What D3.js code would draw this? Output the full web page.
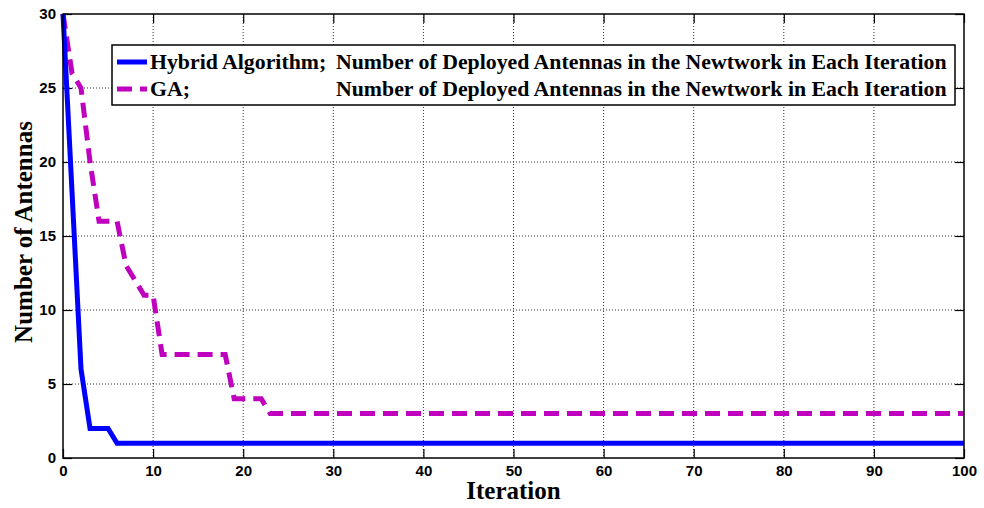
<!DOCTYPE html>
<html>
<head>
<meta charset="utf-8">
<script src="https://cdn.jsdelivr.net/npm/d3@7"></script>
<style>
  html, body { margin: 0; padding: 0; background: #fff; }
  svg { display: block; }
</style>
</head>
<body>
<svg id="chart" width="984" height="508"></svg>
<script>
// Iteration counts and number of deployed antennas per iteration
const iterations = d3.range(0, 101);
const hybridHead = [30, 18, 6, 2, 2, 2, 1];
const gaHead = [30, 26, 25, 20, 16, 16, 16, 13, 12, 11, 11,
                7, 7, 7, 7, 7, 7, 7, 7, 4, 4, 4, 4, 3];
const hybridTail = 1;
const gaTail = 3;
const hybridValues = iterations.map(i => i < hybridHead.length ? hybridHead[i] : hybridTail);
const gaValues = iterations.map(i => i < gaHead.length ? gaHead[i] : gaTail);

const xTicks = [0, 10, 20, 30, 40, 50, 60, 70, 80, 90, 100];
const yTicks = [0, 5, 10, 15, 20, 25, 30];
const seriesNames = ["Hybrid Algorithm;", "GA;"];
const seriesDesc = "Number of Deployed Antennas in the Newtwork in Each Iteration";

const svg = d3.select("#chart");
const plotLeft = 63, plotRight = 964, plotTop = 14, plotBottom = 458;

const x = d3.scaleLinear().domain([0, 100]).range([plotLeft, plotRight]);
const y = d3.scaleLinear().domain([0, 30]).range([plotBottom, plotTop]);

// Dotted grid
const grid = svg.append("g");
grid.selectAll("line.gx").data(xTicks.slice(1, -1)).join("line")
  .attr("x1", d => x(d)).attr("x2", d => x(d))
  .attr("y1", plotTop).attr("y2", plotBottom)
  .attr("stroke", "#333").attr("stroke-width", 1).attr("stroke-dasharray", "1,2");
grid.selectAll("line.gy").data(yTicks.slice(1, -1)).join("line")
  .attr("x1", plotLeft).attr("x2", plotRight)
  .attr("y1", d => y(d)).attr("y2", d => y(d))
  .attr("stroke", "#333").attr("stroke-width", 1).attr("stroke-dasharray", "1,2");

// Axes with inward ticks on all four sides
const tickLen = 9;
const fontTick = "bold 15px 'Liberation Sans', Arial, sans-serif";
const axB = svg.append("g").attr("transform", `translate(0,${plotBottom})`)
  .call(d3.axisBottom(x).tickValues(xTicks).tickSizeInner(-tickLen).tickSizeOuter(0).tickPadding(7));
const axT = svg.append("g").attr("transform", `translate(0,${plotTop})`)
  .call(d3.axisTop(x).tickValues(xTicks).tickSizeInner(-tickLen).tickSizeOuter(0).tickFormat(""));
const axL = svg.append("g").attr("transform", `translate(${plotLeft},0)`)
  .call(d3.axisLeft(y).tickValues(yTicks).tickSizeInner(-tickLen).tickSizeOuter(0).tickPadding(7));
const axR = svg.append("g").attr("transform", `translate(${plotRight},0)`)
  .call(d3.axisRight(y).tickValues(yTicks).tickSizeInner(-tickLen).tickSizeOuter(0).tickFormat(""));
[axB, axT, axL, axR].forEach(a => {
  a.select(".domain").remove();
  a.selectAll(".tick line").attr("stroke", "#000").attr("stroke-width", 1.2);
  a.selectAll(".tick text").attr("fill", "#000").style("font", fontTick);
});

// Series lines
const line = d3.line().x((d, i) => x(iterations[i])).y(d => y(d));
svg.append("path").datum(gaValues)
  .attr("d", line).attr("fill", "none")
  .attr("stroke", "#BF00BF").attr("stroke-width", 5)
  .attr("stroke-dasharray", "15,8").attr("stroke-linejoin", "miter");
svg.append("path").datum(hybridValues)
  .attr("d", line).attr("fill", "none")
  .attr("stroke", "#0000FF").attr("stroke-width", 5).attr("stroke-linejoin", "miter");

// Axes box
svg.append("rect").attr("x", plotLeft).attr("y", plotTop)
  .attr("width", plotRight - plotLeft).attr("height", plotBottom - plotTop)
  .attr("fill", "none").attr("stroke", "#000").attr("stroke-width", 1.5);

// Axis titles
const serif = "'Liberation Serif', 'Times New Roman', serif";
svg.append("text").attr("x", (plotLeft + plotRight) / 2).attr("y", 499)
  .attr("text-anchor", "middle").style("font", `bold 25px ${serif}`)
  .text("Iteration");
svg.append("text").attr("transform", `translate(32,232) rotate(-90)`)
  .attr("text-anchor", "middle").style("font", `bold 25px ${serif}`)
  .text("Number of Antennas");

// Legend
const legend = svg.append("g");
legend.append("rect").attr("x", 112).attr("y", 45).attr("width", 843).attr("height", 60)
  .attr("fill", "#fff").attr("stroke", "#000").attr("stroke-width", 1.5);
const legendRows = [
  { name: seriesNames[0], color: "#0000FF", dash: null, yy: 62 },
  { name: seriesNames[1], color: "#BF00BF", dash: "15,8", yy: 89 }
];
legendRows.forEach(r => {
  legend.append("line").attr("x1", 117).attr("x2", 147).attr("y1", r.yy).attr("y2", r.yy)
    .attr("stroke", r.color).attr("stroke-width", 5)
    .attr("stroke-dasharray", r.dash);
  legend.append("text").attr("x", 150).attr("y", r.yy + 7)
    .style("font", `bold 21.8px ${serif}`).text(r.name);
  legend.append("text").attr("x", 336).attr("y", r.yy + 7)
    .style("font", `bold 21.8px ${serif}`).text(seriesDesc);
});
</script>
</body>
</html>
